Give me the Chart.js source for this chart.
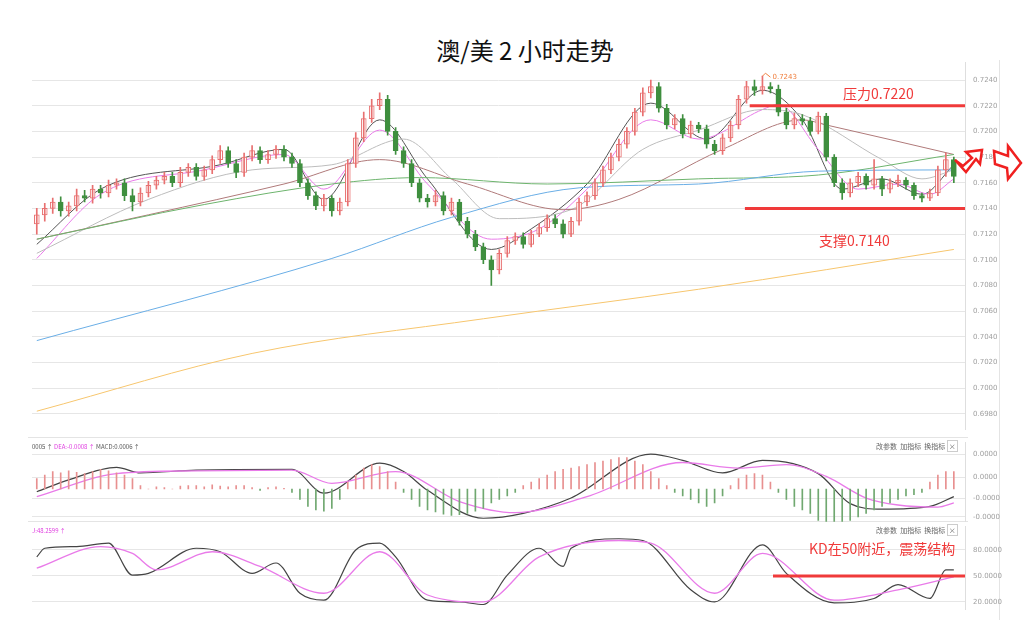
<!DOCTYPE html>
<html>
<head>
<meta charset="utf-8">
<script src="https://cdn.jsdelivr.net/npm/chart.js@4"></script>
<style>
  body { margin:0; width:1024px; height:641px; background:#fff; position:relative; overflow:hidden; font-family:"Noto Sans CJK SC","Noto Sans",sans-serif; }
  canvas { position:absolute; left:0; }
  .t { position:absolute; white-space:nowrap; }
  .sep { position:absolute; left:28px; width:940px; height:1px; background:#e4e4e4; }
</style>
</head>
<body>
<div class="t" style="left:0;width:1050px;top:32px;text-align:center;font-size:24px;color:#111;">澳/美 2 小时走势</div>
<div class="sep" style="top:437px"></div>
<div class="sep" style="top:521px"></div>
<div style="position:absolute;left:999px;top:60px;width:1px;height:560px;background:#e4e4e4"></div>
<canvas id="main" width="1024" height="392" style="top:50px;width:1024px;height:392px"></canvas>
<canvas id="macd" width="1024" height="104" style="top:430px;width:1024px;height:104px"></canvas>
<canvas id="kd" width="1024" height="108" style="top:514px;width:1024px;height:108px"></canvas>
<div class="t" style="left:32px;top:442px;font-size:6px;color:#555;">0005 ↑ <span style="color:#e040e0">DEA:-0.0008 ↑</span> MACD:0.0006 ↑</div>
<div class="t" style="left:876px;top:441px;font-size:7px;color:#666;">改参数 &nbsp;加指标 &nbsp;换指标 <span style="border:1px solid #ccc;padding:0 1px">×</span></div>
<div class="t" style="left:32px;top:526px;font-size:6px;color:#e040e0;">J:48.2599 ↑</div>
<div class="t" style="left:876px;top:525px;font-size:7px;color:#666;">改参数 &nbsp;加指标 &nbsp;换指标 <span style="border:1px solid #ccc;padding:0 1px">×</span></div>
<div class="t" style="left:843px;top:83px;font-size:14px;color:#f03a3a;">压力0.7220</div>
<div class="t" style="left:819px;top:230px;font-size:14px;color:#f03a3a;">支撑0.7140</div>
<div class="t" style="left:809px;top:538px;font-size:14px;color:#f03a3a;">KD在50附近，震荡结构</div>
<script>
// K线数据
const opens = [0.7128,0.7135,0.7140,0.7145,0.7138,0.7142,0.7150,0.7148,0.7155,0.7152,0.7158,
  0.7160,0.7150,0.7145,0.7152,0.7158,0.7162,0.7165,0.7160,0.7168,0.7172,
  0.7165,0.7170,0.7178,0.7185,0.7175,0.7168,0.7180,0.7185,0.7178,0.7182,
  0.7186,0.7180,0.7175,0.7160,0.7150,0.7142,0.7148,0.7138,0.7145,0.7175,
  0.7195,0.7210,0.7220,0.7225,0.7200,0.7185,0.7175,0.7160,0.7148,0.7145,
  0.7150,0.7138,0.7145,0.7130,0.7120,0.7110,0.7100,0.7092,0.7105,0.7115,
  0.7118,0.7112,0.7120,0.7125,0.7132,0.7128,0.7120,0.7130,0.7145,0.7150,
  0.7160,0.7170,0.7180,0.7190,0.7200,0.7215,0.7230,0.7235,0.7218,0.7205,
  0.7210,0.7198,0.7205,0.7202,0.7190,0.7185,0.7195,0.7205,0.7225,0.7235,
  0.7232,0.7235,0.7233,0.7215,0.7205,0.7210,0.7208,0.7200,0.7212,0.7180,
  0.7160,0.7152,0.7160,0.7165,0.7158,0.7163,0.7155,0.7160,0.7162,0.7158,0.7150,0.7148,0.7152,0.7170,0.7178];
const closes = [0.7135,0.7140,0.7145,0.7138,0.7142,0.7150,0.7148,0.7155,0.7152,0.7158,0.7160,
  0.7150,0.7145,0.7152,0.7158,0.7162,0.7165,0.7160,0.7168,0.7172,0.7165,
  0.7170,0.7178,0.7185,0.7175,0.7168,0.7180,0.7185,0.7178,0.7182,0.7186,
  0.7180,0.7175,0.7160,0.7150,0.7142,0.7148,0.7138,0.7145,0.7175,0.7195,
  0.7210,0.7220,0.7225,0.7200,0.7185,0.7175,0.7160,0.7148,0.7145,0.7150,
  0.7138,0.7145,0.7130,0.7120,0.7110,0.7100,0.7092,0.7105,0.7115,0.7118,
  0.7112,0.7120,0.7125,0.7132,0.7128,0.7120,0.7130,0.7145,0.7150,0.7160,
  0.7170,0.7180,0.7190,0.7200,0.7215,0.7230,0.7235,0.7218,0.7205,0.7210,
  0.7198,0.7205,0.7202,0.7190,0.7185,0.7195,0.7205,0.7225,0.7235,0.7232,
  0.7235,0.7233,0.7215,0.7205,0.7210,0.7208,0.7200,0.7212,0.7180,0.7160,
  0.7152,0.7160,0.7165,0.7158,0.7163,0.7155,0.7160,0.7162,0.7158,0.7150,0.7148,0.7152,0.7170,0.7178,0.7165];
const highs = [0.7140,0.7144,0.7148,0.7149,0.7145,0.7155,0.7154,0.7158,0.7158,0.7162,0.7163,
  0.7163,0.7155,0.7156,0.7161,0.7165,0.7168,0.7168,0.7172,0.7175,0.7175,
  0.7173,0.7181,0.7189,0.7188,0.7178,0.7183,0.7189,0.7188,0.7185,0.7189,
  0.7189,0.7183,0.7178,0.7163,0.7153,0.7151,0.7150,0.7148,0.7178,0.7199,
  0.7215,0.7225,0.7230,0.7228,0.7203,0.7188,0.7178,0.7163,0.7151,0.7154,
  0.7153,0.7148,0.7147,0.7133,0.7123,0.7113,0.7103,0.7108,0.7118,0.7121,
  0.7121,0.7123,0.7128,0.7135,0.7135,0.7131,0.7133,0.7148,0.7153,0.7163,
  0.7173,0.7183,0.7194,0.7203,0.7218,0.7234,0.7240,0.7238,0.7221,0.7213,
  0.7213,0.7208,0.7207,0.7205,0.7193,0.7198,0.7208,0.7228,0.7239,0.7240,
  0.7243,0.7238,0.7236,0.7218,0.7214,0.7213,0.7211,0.7215,0.7214,0.7182,
  0.7163,0.7163,0.7168,0.7167,0.7178,0.7165,0.7163,0.7166,0.7164,0.7160,0.7152,0.7155,0.7173,0.7183,0.7180];
const lows = [0.7120,0.7130,0.7136,0.7134,0.7134,0.7138,0.7145,0.7144,0.7148,0.7149,0.7155,
  0.7146,0.7138,0.7142,0.7149,0.7155,0.7159,0.7157,0.7157,0.7165,0.7162,
  0.7162,0.7167,0.7175,0.7172,0.7164,0.7165,0.7177,0.7175,0.7175,0.7179,
  0.7177,0.7172,0.7157,0.7147,0.7139,0.7138,0.7134,0.7135,0.7142,0.7172,
  0.7192,0.7207,0.7217,0.7197,0.7182,0.7172,0.7157,0.7145,0.7141,0.7142,
  0.7135,0.7135,0.7127,0.7117,0.7107,0.7097,0.7080,0.7089,0.7102,0.7112,
  0.7109,0.7110,0.7118,0.7122,0.7125,0.7117,0.7118,0.7127,0.7142,0.7147,
  0.7157,0.7167,0.7177,0.7187,0.7197,0.7212,0.7226,0.7215,0.7202,0.7202,
  0.7195,0.7195,0.7199,0.7187,0.7182,0.7182,0.7192,0.7202,0.7222,0.7228,
  0.7229,0.7230,0.7212,0.7202,0.7202,0.7205,0.7197,0.7198,0.7177,0.7157,
  0.7147,0.7149,0.7157,0.7155,0.7155,0.7150,0.7152,0.7157,0.7155,0.7147,0.7145,0.7146,0.7150,0.7165,0.7160];

// 均线 [序号, 数值]
const maDark = [[0,0.7112],[8,0.7155],[23,0.7174],[31,0.7186],[36,0.7147],[43,0.7209],[49,0.7163],[57,0.7108],[62,0.7124],[69,0.7159],[77,0.7222],[84,0.7194],[91,0.7232],[96,0.7209],[101,0.7155],[106,0.7163],[111,0.7151],[115,0.7174]];
const maPink = [[0,0.7101],[8,0.7151],[21,0.7170],[31,0.7182],[36,0.7155],[43,0.7201],[49,0.7159],[57,0.7116],[63,0.7124],[69,0.7155],[77,0.7209],[83,0.7194],[91,0.7217],[93,0.7221],[98,0.7186],[103,0.7155],[108,0.7159],[112,0.7151],[115,0.7163]];
const maLight = [[0,0.7105],[14,0.7147],[27,0.7170],[37,0.7174],[46,0.7194],[52,0.7163],[58,0.7132],[67,0.7139],[76,0.7186],[83,0.7201],[91,0.7217],[96,0.7213],[106,0.7178],[111,0.7163],[115,0.7170]];
const maBrown = [[0,0.7116],[14,0.7135],[31,0.7159],[43,0.7178],[54,0.7159],[66,0.7139],[73,0.7147],[86,0.7186],[96,0.7209],[99,0.7205],[115,0.7182]];
const maGreen = [[0,0.7116],[21,0.7143],[37,0.7159],[48,0.7164],[64,0.7159],[83,0.7163],[98,0.7166],[115,0.7182]];
const maBlue = [[0,0.7037],[37,0.7101],[52,0.7133],[68,0.7156],[83,0.7159],[98,0.7169],[115,0.7170]];
const maOrange = [[0,0.6982],[27,0.7027],[56,0.7054],[83,0.7077],[115,0.7108]];

const priceTicks = [0.6980,0.7000,0.7020,0.7040,0.7060,0.7080,0.7100,0.7120,0.7140,0.7160,0.7180,0.7200,0.7220,0.7240];
const levels = [0.7220, 0.7140];

// MACD (单位 0.0001)
const macdHist = [1.5,2,2.5,2.3,2.6,2.4,2.2,2.5,2.8,2.6,2.3,2,
  1.5,0.5,0,0.3,0.2,0,0.4,0.5,0.5,0.3,0.6,0.4,0.3,0.5,0.5,0.2,-0.2,0.2,0.3,0.1,
  -0.5,-1.5,-2.5,-3,-3.2,-2.8,-1.5,
  1,2,3,3.5,3.2,2.5,1,
  -0.5,-1.5,-2.5,-3,-3.3,-3.6,-3.8,-3.7,-3.5,-3.2,-2.8,-2,-1.5,-1,-0.5,
  0.5,1,1.5,2,2.5,2.8,3,3.2,3.5,3.8,4,4.2,4.5,4.5,4,3.5,2.5,
  1.5,0.5,-0.5,-1,-1.5,-2,-2.5,-2,-1,0.5,1.5,2,
  2.2,2,1,
  -0.5,-1.5,-2.5,-3,-3.5,-4.5,-5,-5,-4.8,-4.5,-4,-3.5,-3,-2.5,-2,-1.5,-1,-0.8,-0.5,
  1,2,2.5,2.5];
const dif = [[0,-0.4],[4,1.3],[10,3.1],[13,2.3],[20,2.7],[32,2.8],[36,-0.6],[43,3.7],[46,2.5],[49,-0.2],[56,-4.2],[61,-3.5],[67,-1.3],[77,5],[81,4.1],[86,2.3],[91,4.1],[98,2.2],[102,-2.1],[106,-2.9],[112,-2.5],[115,-1.1]];
const dea = [[0,-1.1],[10,2.2],[20,2.6],[32,2.7],[37,0.8],[45,2.5],[53,-1.8],[60,-3.4],[69,-1.1],[81,3.8],[88,3],[94,3.5],[99,1.8],[104,-1.3],[108,-2.3],[113,-2.6],[115,-2]];
const macdTicks = [5, 1.7, -1.3, -4];
const macdTickLabels = ['0.0000', '0.0000', '-0.0000', '-0.0000'];

// KD
const kLine = [[0,72],[1,82],[5,84],[9,88],[12,51],[14,53],[20,82],[23,78],[27,53],[30,65],[33,30],[36,22],[40,80],[43,88],[45,72],[49,22],[53,20],[56,17],[59,51],[63,82],[66,61],[67,82],[73,93],[76,91],[82,34],[85,20],[91,86],[94,53],[100,19],[105,24],[108,40],[112,24],[114,57],[115,57]];
const dLine = [[0,59],[8,84],[12,76],[15,57],[22,78],[28,61],[36,30],[43,78],[49,28],[56,20],[63,72],[73,91],[77,88],[85,30],[91,76],[100,22],[108,34],[115,49]];
const kdTicks = [80, 50, 20];

const pts = arr => arr.map(p => ({x: p[0], y: p[1]}));
const UP = '#e87070', DOWN = '#3f8f3f';

function xAxis() {
  return { type: 'linear', min: -0.6, max: 116.4, display: false, offset: false };
}
function rightAxis(min, max, ticks, fmt) {
  return {
    position: 'right', min: min, max: max,
    afterFit: s => { s.width = 59; },
    afterBuildTicks: s => { s.ticks = ticks.map(v => ({value: v})); },
    ticks: { color: '#a0a0a0', font: {size: 7, family: 'DejaVu Sans'}, padding: 8, callback: fmt },
    grid: { color: '#e6e6e6', borderDash: [2, 2], drawTicks: false },
    border: { display: true, color: '#dedede', dash: [] }
  };
}
const common = {
  responsive: false, animation: false,
  plugins: { legend: {display: false}, tooltip: {enabled: false} },
};
function line(data, color, w) {
  return { type: 'line', data: pts(data), borderColor: color, borderWidth: w || 1, pointRadius: 0,
    cubicInterpolationMode: 'monotone', fill: false };
}

const candleUp = closes.map((c, i) => c >= opens[i]);
const wicks = highs.map((h, i) => ({x: i, y: [lows[i], h]}));
const bodies = closes.map((c, i) => ({x: i, y: [Math.min(opens[i], c), Math.max(opens[i], c) + (c === opens[i] ? 0.00005 : 0)]}));

const levelPlugin = {
  id: 'levels',
  afterDatasetsDraw(chart) {
    const {ctx, scales: {x, y}} = chart;
    ctx.save();
    ctx.strokeStyle = '#f03a3a'; ctx.lineWidth = 3;
    [[89.4, levels[0]], [88.8, levels[1]]].forEach(([from, v]) => {
      ctx.beginPath(); ctx.moveTo(x.getPixelForValue(from), y.getPixelForValue(v));
      ctx.lineTo(chart.chartArea.right, y.getPixelForValue(v)); ctx.stroke();
    });
    // 最高价标注
    const hx = x.getPixelForValue(91), hy = y.getPixelForValue(highs[91]);
    ctx.strokeStyle = '#f08040'; ctx.lineWidth = 1;
    ctx.beginPath(); ctx.moveTo(hx, hy); ctx.lineTo(hx + 3, hy - 3); ctx.lineTo(hx + 8, hy + 1); ctx.stroke();
    ctx.fillStyle = '#f08040'; ctx.font = '7px DejaVu Sans'; ctx.fillText('0.7243', hx + 10, hy + 3);
    // 箭头 (画布内坐标，画布顶部在 50px)
    ctx.strokeStyle = '#f02020'; ctx.lineWidth = 2.5; ctx.fillStyle = '#fff'; ctx.lineJoin = 'miter';
    ctx.beginPath();
    const a = [[955,110],[963,116],[972,108],[966,102],[982,100],[980,114],[976,109],[966,122]];
    a.forEach((p, i) => i ? ctx.lineTo(p[0], p[1]) : ctx.moveTo(p[0], p[1]));
    ctx.closePath(); ctx.fill(); ctx.stroke();
    ctx.beginPath();
    const b = [[994,101],[1008,106],[1008,96],[1021,113],[1008,129],[1007,118],[995,114]];
    b.forEach((p, i) => i ? ctx.lineTo(p[0], p[1]) : ctx.moveTo(p[0], p[1]));
    ctx.closePath(); ctx.fill(); ctx.stroke();
    ctx.restore();
  }
};

new Chart(document.getElementById('main'), {
  data: { datasets: [
    { type: 'bar', data: wicks, barThickness: 1, grouped: false,
      backgroundColor: candleUp.map(u => u ? UP : DOWN) },
    { type: 'bar', data: bodies, barThickness: 5, grouped: false, borderSkipped: false,
      backgroundColor: candleUp.map(u => u ? '#ffffff' : DOWN),
      borderColor: candleUp.map(u => u ? UP : DOWN), borderWidth: 1 },
    line(maOrange, '#f7c66e'), line(maBlue, '#6aaee6'), line(maGreen, '#6db46d'),
    line(maBrown, '#b07a7a'), line(maLight, '#bdbdbd'), line(maPink, '#e97be9'), line(maDark, '#555555')
  ]},
  options: { ...common, layout: {padding: {left: 32, top: 2, bottom: 0, right: 0}},
    scales: { x: xAxis(), y: rightAxis(0.69675, 0.72539, priceTicks, v => v.toFixed(4)) } },
  plugins: [levelPlugin]
});

new Chart(document.getElementById('macd'), {
  data: { datasets: [
    { type: 'bar', data: macdHist.map((v, i) => ({x: i, y: v})), barThickness: 1,
      backgroundColor: macdHist.map(v => v >= 0 ? '#e89090' : '#70a870') },
    line(dea, '#e97be9', 1.3), line(dif, '#444444', 1.2)
  ]},
  options: { ...common, layout: {padding: {left: 32, top: 2, bottom: 2}},
    scales: { x: xAxis(), y: rightAxis(-4.71, 6.71, macdTicks, (v, i) => macdTickLabels[i]) } }
});

const kdPlugin = {
  id: 'kd50',
  afterDatasetsDraw(chart) {
    const {ctx, scales: {x, y}} = chart;
    ctx.save(); ctx.strokeStyle = '#f03a3a'; ctx.lineWidth = 3;
    ctx.beginPath(); ctx.moveTo(773, y.getPixelForValue(50)); ctx.lineTo(chart.chartArea.right, y.getPixelForValue(50)); ctx.stroke();
    ctx.restore();
  }
};
new Chart(document.getElementById('kd'), {
  data: { datasets: [ line(dLine, '#e97be9', 1.3), line(kLine, '#444444', 1.2) ] },
  options: { ...common, layout: {padding: {left: 32, top: 2, bottom: 2}},
    scales: { x: xAxis(), y: rightAxis(10.9, 107.5, kdTicks, v => v.toFixed(4)) } },
  plugins: [kdPlugin]
});
</script>
</body>
</html>
